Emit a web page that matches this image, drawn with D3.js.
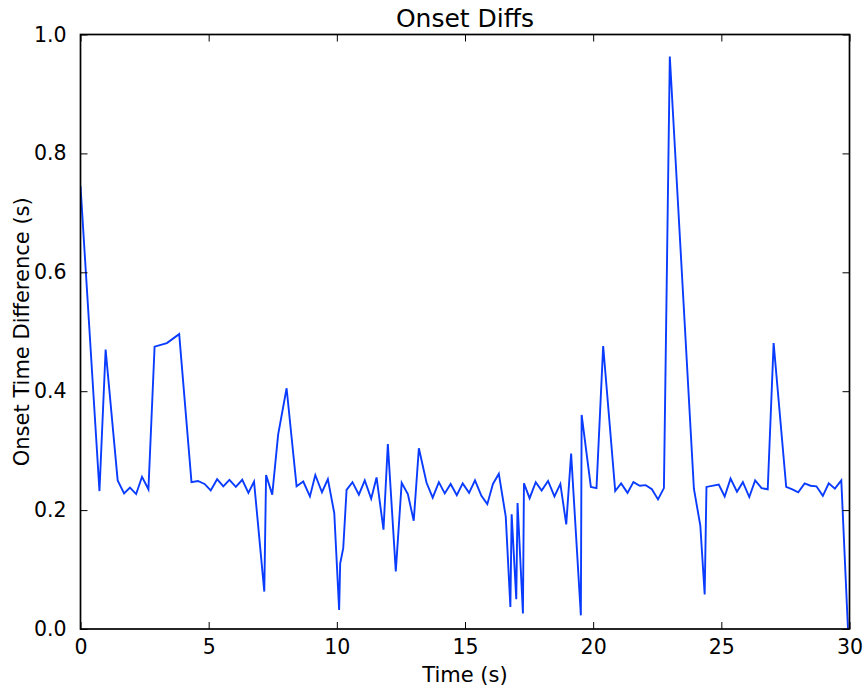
<!DOCTYPE html>
<html>
<head>
<meta charset="utf-8">
<script src="https://cdn.jsdelivr.net/npm/d3@7"></script>
<style>
  body { margin: 0; background: #fff; }
  text { font-family: "DejaVu Sans", sans-serif; fill: #000; }
</style>
</head>
<body>
<svg></svg>
<script>
// Onset times (s) and the difference to the next onset (s)
var times = [0.0, 0.74, 0.98, 1.45, 1.70, 1.93, 2.17, 2.40, 2.65, 2.89, 3.37, 3.85,
  4.33, 4.58, 4.84, 5.08, 5.33, 5.57, 5.81, 6.06, 6.31, 6.55, 6.77, 7.17, 7.24,
  7.48, 7.71, 8.04, 8.43, 8.69, 8.95, 9.16, 9.42, 9.65, 9.90, 10.09, 10.13, 10.25,
  10.38, 10.61, 10.86, 11.09, 11.34, 11.55, 11.82, 11.99, 12.30, 12.53, 12.77,
  13.00, 13.20, 13.50, 13.74, 13.98, 14.21, 14.44, 14.68, 14.91, 15.16, 15.39,
  15.64, 15.87, 16.09, 16.32, 16.59, 16.77, 16.82, 17.00, 17.05, 17.26, 17.30,
  17.52, 17.76, 17.99, 18.24, 18.49, 18.72, 18.95, 19.14, 19.52, 19.55, 19.91,
  20.13, 20.39, 20.86, 21.09, 21.34, 21.57, 21.82, 22.05, 22.29, 22.53, 22.76,
  22.99, 23.93, 24.18, 24.35, 24.42, 24.90, 25.13, 25.36, 25.61, 25.84, 26.09,
  26.32, 26.57, 26.81, 27.04, 27.53, 27.77, 28.00, 28.25, 28.48, 28.71, 28.96,
  29.19, 29.43, 29.68, 29.94];
var diffs = [0.745, 0.232, 0.47, 0.25, 0.228, 0.238, 0.227, 0.256, 0.235, 0.475, 0.481, 0.496,
  0.247, 0.249, 0.244, 0.233, 0.252, 0.24, 0.251, 0.239, 0.251, 0.229, 0.248, 0.063, 0.259,
  0.226, 0.327, 0.405, 0.24, 0.248, 0.223, 0.259, 0.23, 0.252, 0.195, 0.032, 0.11, 0.136,
  0.234, 0.247, 0.226, 0.25, 0.219, 0.255, 0.167, 0.311, 0.097, 0.246, 0.227,
  0.182, 0.304, 0.246, 0.221, 0.247, 0.228, 0.244, 0.225, 0.245, 0.229, 0.25,
  0.224, 0.21, 0.244, 0.261, 0.189, 0.037, 0.193, 0.05, 0.212, 0.026, 0.245,
  0.22, 0.247, 0.233, 0.249, 0.223, 0.244, 0.176, 0.295, 0.023, 0.36, 0.239,
  0.237, 0.476, 0.232, 0.245, 0.229, 0.247, 0.241, 0.242, 0.235, 0.218, 0.237,
  0.963, 0.236, 0.174, 0.058, 0.239, 0.243, 0.223, 0.253, 0.231, 0.247, 0.222,
  0.25, 0.237, 0.235, 0.481, 0.239, 0.235, 0.23, 0.245, 0.241, 0.24, 0.224,
  0.245, 0.236, 0.25, 0.0];
var xTicks = [0, 5, 10, 15, 20, 25, 30];
var yTicks = [0.0, 0.2, 0.4, 0.6, 0.8, 1.0];

var width = 868, height = 690;
var plotLeft = 80.5, plotRight = 849.5, plotTop = 34.5, plotBottom = 629;

var svg = d3.select("svg")
	.attr("width", width)
	.attr("height", height);

var x = d3.scaleLinear().domain([0, 30]).range([plotLeft, plotRight]);
var y = d3.scaleLinear().domain([0, 1]).range([plotBottom, plotTop]);

svg.append("clipPath")
	.attr("id", "plot-clip")
	.append("rect")
		.attr("x", plotLeft)
		.attr("y", plotTop)
		.attr("width", plotRight - plotLeft)
		.attr("height", plotBottom - plotTop);

// data line
var line = d3.line()
	.x(function(d, i) { return x(times[i]); })
	.y(function(d) { return y(d); });

svg.append("path")
	.datum(diffs)
	.attr("clip-path", "url(#plot-clip)")
	.attr("fill", "none")
	.attr("stroke", "#0a3cff")
	.attr("stroke-width", 1.9)
	.attr("stroke-linejoin", "miter")
	.attr("d", line);

// axes, ticks pointing inward like classic matplotlib
var tickLen = 7;
function styleAxis(g) {
	g.select(".domain").remove();
	g.selectAll(".tick line").attr("stroke", "#000").attr("stroke-width", 1);
	g.selectAll(".tick text")
		.attr("font-family", "DejaVu Sans, sans-serif")
		.attr("font-size", "20.5px")
		.attr("fill", "#000");
}

svg.append("g")
	.attr("transform", "translate(0," + plotBottom + ")")
	.call(d3.axisBottom(x).tickValues(xTicks).tickFormat(d3.format("d"))
		.tickSizeInner(-tickLen).tickSizeOuter(0).tickPadding(10))
	.call(styleAxis);

svg.append("g")
	.attr("transform", "translate(0," + plotTop + ")")
	.call(d3.axisTop(x).tickValues(xTicks).tickFormat("")
		.tickSizeInner(-tickLen).tickSizeOuter(0))
	.call(styleAxis);

svg.append("g")
	.attr("transform", "translate(" + plotLeft + ",0)")
	.call(d3.axisLeft(y).tickValues(yTicks).tickFormat(d3.format(".1f"))
		.tickSizeInner(-tickLen).tickSizeOuter(0).tickPadding(14))
	.call(styleAxis);

svg.append("g")
	.attr("transform", "translate(" + plotRight + ",0)")
	.call(d3.axisRight(y).tickValues(yTicks).tickFormat("")
		.tickSizeInner(-tickLen).tickSizeOuter(0))
	.call(styleAxis);

// frame
svg.append("rect")
	.attr("x", plotLeft)
	.attr("y", plotTop)
	.attr("width", plotRight - plotLeft)
	.attr("height", plotBottom - plotTop)
	.attr("fill", "none")
	.attr("stroke", "#000")
	.attr("stroke-width", 1.7);

// title and labels
svg.append("text")
	.attr("x", (plotLeft + plotRight) / 2)
	.attr("y", 27)
	.attr("text-anchor", "middle")
	.attr("font-size", "25px")
	.text("Onset Diffs");

svg.append("text")
	.attr("x", (plotLeft + plotRight) / 2)
	.attr("y", 682)
	.attr("text-anchor", "middle")
	.attr("font-size", "21px")
	.text("Time (s)");

svg.append("text")
	.attr("transform", "translate(29," + ((plotTop + plotBottom) / 2) + ") rotate(-90)")
	.attr("text-anchor", "middle")
	.attr("font-size", "21px")
	.text("Onset Time Difference (s)");
</script>
</body>
</html>
